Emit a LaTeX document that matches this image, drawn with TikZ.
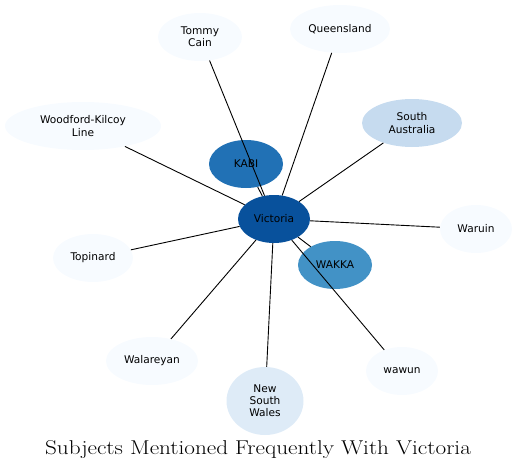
\documentclass[tikz,border=0pt]{standalone}
\usepackage{fontspec}
\newfontfamily\labfont{DejaVu Sans}
\usetikzlibrary{shapes.geometric}
\definecolor{cA}{HTML}{08519C}
\definecolor{cB}{HTML}{2171B5}
\definecolor{cC}{HTML}{4292C6}
\definecolor{cD}{HTML}{C6DBEF}
\definecolor{cE}{HTML}{DEEBF7}
\definecolor{cF}{HTML}{F7FBFF}
\tikzset{
  ell/.style={ellipse, inner sep=0pt, align=center, text=black,
    font=\labfont\fontsize{10.6}{12.2}\selectfont},
  sz/.style 2 args={minimum width=#1pt, minimum height=#2pt},
  link/.style={draw=black, line width=0.9pt}
}
\begin{document}
\begin{tikzpicture}[x=1pt,y=-1pt]
\useasboundingbox (0,0) rectangle (517,471);
\node[ell, fill=cA, sz={72}{48}] (vic) at (274,219) {Victoria};
\node[ell, fill=cB, sz={74}{48}] (kabi) at (246,164) {KABI};
\node[ell, fill=cC, sz={74}{48}] (wakka) at (335,265) {WAKKA};
\node[ell, fill=cF, sz={84}{48}] (tommy) at (200,37) {Tommy\\Cain};
\node[ell, fill=cF, sz={100}{48}] (qld) at (340,29) {Queensland};
\node[ell, fill=cD, sz={100}{48}] (sa) at (412,123) {South\\Australia};
\node[ell, fill=cF, sz={156}{48}] (wood) at (83,126) {Woodford-Kilcoy\\Line};
\node[ell, fill=cF, sz={72}{48}] (waruin) at (476,229) {Waruin};
\node[ell, fill=cF, sz={80}{48}] (topi) at (93,258) {Topinard};
\node[ell, fill=cF, sz={92}{48}] (wala) at (152,361) {Walareyan};
\node[ell, fill=cE, sz={77}{68}] (nsw) at (265,401) {New\\South\\Wales};
\node[ell, fill=cF, sz={72}{48}] (wawun) at (402,371) {wawun};
\node[inner sep=0pt] (title) at (258,450) {\scalebox{1.16}[1]{\fontsize{20}{24}\selectfont Subjects Mentioned Frequently With Victoria}};
\foreach \n in {kabi,wakka,tommy,qld,sa,wood,waruin,topi,wala,nsw,wawun}
  \draw[link] (vic) -- (\n);
\end{tikzpicture}
\end{document}
